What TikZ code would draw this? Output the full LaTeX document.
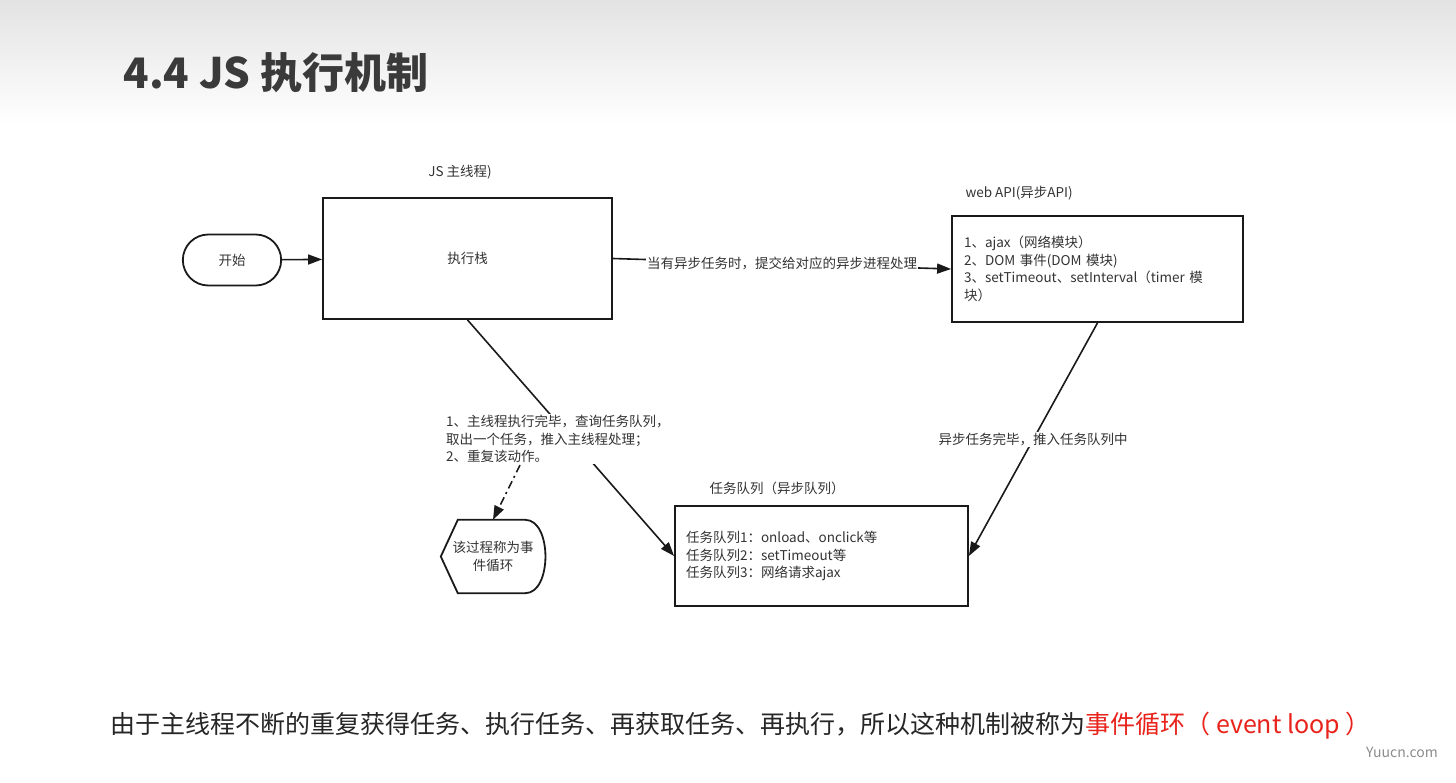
\documentclass[tikz,border=0pt]{standalone}
\usepackage{fontspec}
\setmainfont{Noto Sans CJK SC}
\usetikzlibrary{arrows.meta,positioning,shapes.misc}
\definecolor{JText}{HTML}{333333}
\definecolor{JLine}{HTML}{1A1A1A}
\definecolor{JRed}{HTML}{E8231B}
\definecolor{JTitle}{HTML}{3A3A3A}

\begin{document}
\begin{tikzpicture}[
  x=1pt,y=-1pt,
  every node/.style={font=\fontsize{13.5}{17.6}\selectfont,text=JText},
  box/.style={draw=JLine,line width=1.8pt},
  pill/.style={box,rounded rectangle,minimum width=105pt,minimum height=51pt},
  hdr/.style={anchor=west},
  lbl/.style={fill=white,inner sep=1pt},
  a/.style={-{Triangle[length=14pt,width=10pt]},line width=1.6pt,color=JLine}
]
  \useasboundingbox (0,0) rectangle (1456,782);
  \shade[top color=black!11,bottom color=white] (0,0) rectangle (1456,125);
  \node[font=\fontsize{42}{44}\selectfont\bfseries,text=JTitle,anchor=base west] (title) at (120,88) {4.4 JS 执行机制};

  \node[pill] (start) at (232,260) {开始};
  \node[box,minimum width=289pt,minimum height=121pt] (main) at (467.5,258.5) {执行栈};
  \node (mainhd) at (460,172) {JS 主线程)};
  \node[box,minimum width=291pt,minimum height=106pt,text width=267pt,inner xsep=12pt,align=left] (api) at (1097.5,269)
    {1、ajax（网络模块）\\2、DOM 事件(DOM 模块)\\3、setTimeout、setInterval（timer 模\\块）};
  \node[hdr] (apihd) at (962,193) {web API(异步API)};
  \node[box,minimum width=293pt,minimum height=100pt,text width=271pt,inner xsep=11pt,align=left] (queue) at (821.5,556)
    {任务队列1：onload、onclick等\\任务队列2：setTimeout等\\任务队列3：网络请求ajax};
  \node[hdr] (queuehd) at (706,488) {任务队列（异步队列）};
  \node (loop) [minimum width=104pt,minimum height=73pt,align=center] at (493,556.5) {该过程称为事\\件循环};
  \draw[box] (loop.west) -- ([xshift=17pt]loop.north west) -- ([xshift=-20pt]loop.north east)
    .. controls ([xshift=7pt]loop.north east) and ([xshift=7pt]loop.south east) .. ([xshift=-20pt]loop.south east)
    -- ([xshift=17pt]loop.south west) -- cycle;

  \draw[a] (start) -- (main);
  \draw[a] (main.east) -- node[lbl] {当有异步任务时，提交给对应的异步进程处理} (api.west);
  \draw[a] (main.south) -- (queue.west);
  \node[lbl,align=left,anchor=west] (steps) at (445,439)
    {1、主线程执行完毕，查询任务队列，\\取出一个任务，推入主线程处理；\\2、重复该动作。};
  \draw[a,dash pattern=on 8pt off 4pt on 2pt off 4pt] ([xshift=75pt,yshift=-1pt]steps.south west) -- (loop.north);
  \draw[a] (api.south) -- node[lbl] {异步任务完毕，推入任务队列中} (queue.east);

  \node[anchor=base west,font=\fontsize{25}{29}\selectfont,text=black!85] (note) at (107,733)
    {由于主线程不断的重复获得任务、执行任务、再获取任务、再执行，所以这种机制被称为\textcolor{JRed}{事件循环（ event loop ）}};
  \node[font=\fontsize{14}{16}\selectfont,text=black!45] (mark) at (1402,752) {Yuucn.com};
\end{tikzpicture}
\end{document}
